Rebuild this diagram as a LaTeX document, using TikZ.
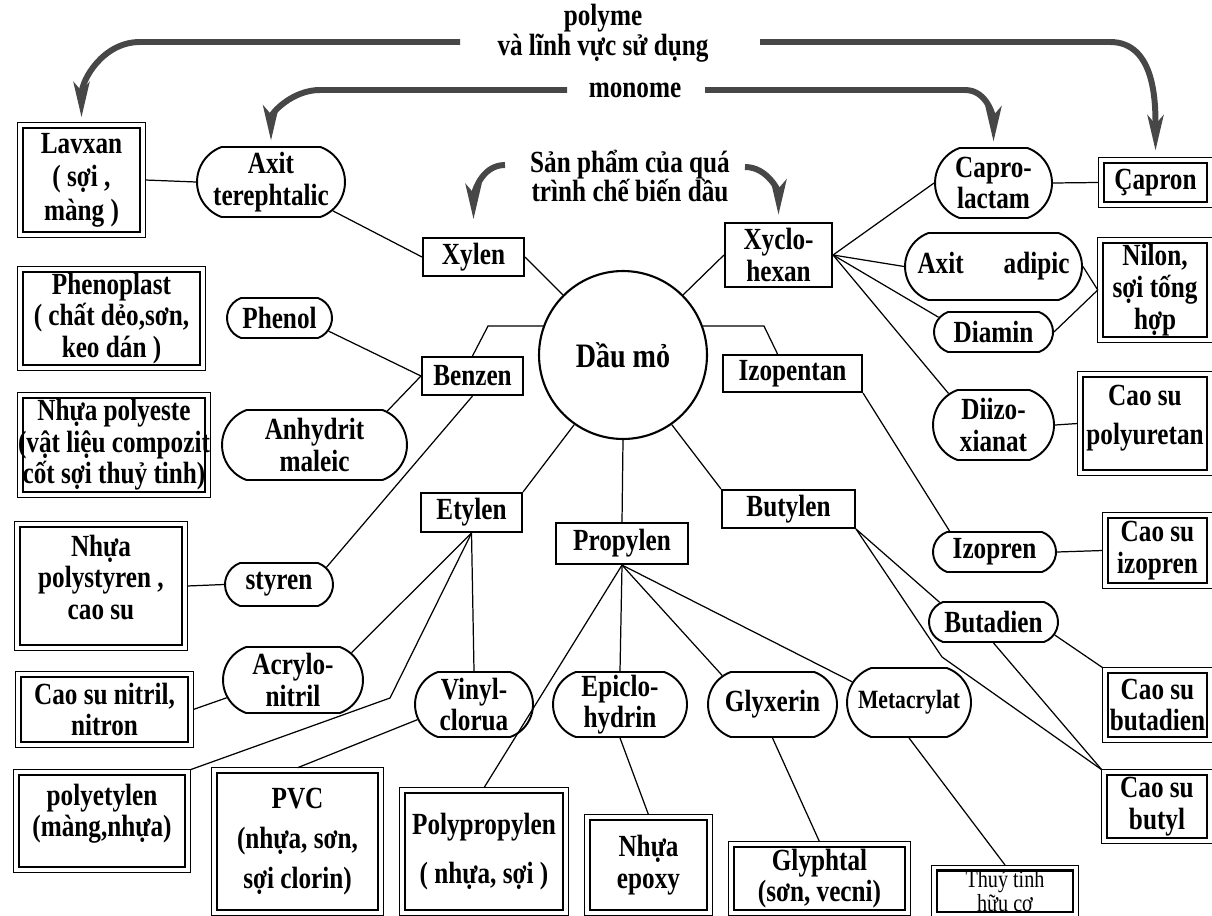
\documentclass[tikz,border=0pt]{standalone}
\usepackage{fontspec}
\setmainfont{Liberation Serif}[FakeStretch=0.82]
\usetikzlibrary{shapes.misc,arrows.meta}

\begin{document}
\begin{tikzpicture}[x=0.02cm,y=-0.02cm,
  txt/.style={font=\bfseries\fontsize{17.5}{18}\selectfont,align=center},
  rawbox/.style={txt,draw,rectangle,line width=1.2pt,inner sep=0pt,minimum height=0.76cm},
  monopill/.style={txt,draw,rounded rectangle,rounded rectangle arc length=140,line width=1.1pt,inner sep=0pt},
  prodbox/.style={txt,draw,rectangle,line width=1.4pt,inner sep=0pt,outer sep=3pt,
    append after command={\pgfextra{\begin{pgfinterruptpath}\draw[line width=0.5pt]
      (\tikzlastnode.north west) rectangle (\tikzlastnode.south east);\end{pgfinterruptpath}}}},
  link/.style={line width=0.7pt},
  bigarrow/.style={line width=3.4pt,black!72,-{Stealth[length=20pt,width=9pt,inset=5pt]}}]
\useasboundingbox (0,0) rectangle (1212,915);

% nguyen lieu
\node[draw,circle,line width=1.2pt,minimum size=3.36cm,font=\bfseries\fontsize{19.5}{22}\selectfont] (daumo) at (623,355) {Dầu mỏ};
\node[rawbox,minimum width=2.02cm] (xylen) at (473.5,257) {Xylen};
\node[rawbox,minimum width=2.14cm,minimum height=1.28cm] (xyclohexan) at (778.5,255) {Xyclo-\\hexan};
\node[rawbox,minimum width=2.02cm] (benzen) at (472.5,376) {Benzen};
\node[rawbox,minimum width=2.78cm,minimum height=0.74cm] (izopentan) at (792.5,373.5) {Izopentan};
\node[rawbox,minimum width=2.02cm,minimum height=0.78cm] (etylen) at (471.5,512.5) {Etylen};
\node[rawbox,minimum width=2.66cm] (butylen) at (788.5,509) {Butylen};
\node[rawbox,minimum width=2.64cm,minimum height=0.82cm] (propylen) at (622,543.5) {Propylen};

% monome
\node[monopill,minimum width=2.96cm,minimum height=1.4cm] (terephtalic) at (271,182) {Axit\\terephtalic};
\node[monopill,minimum width=2.1cm,minimum height=0.8cm] (phenol) at (279.5,318) {Phenol};
\node[monopill,minimum width=3.7cm,minimum height=1.4cm] (anhydrit) at (314.5,445) {Anhydrit\\maleic};
\node[monopill,minimum width=2.16cm,minimum height=0.86cm] (styren) at (279,584.5) {styren};
\node[monopill,minimum width=2.8cm,minimum height=1.32cm] (acrylonitril) at (293,680) {Acrylo-\\nitril};
\node[monopill,minimum width=2.36cm,minimum height=1.3cm] (vinylclorua) at (474,704.5) {Vinyl-\\clorua};
\node[monopill,minimum width=2.68cm,minimum height=1.3cm] (epiclohydrin) at (620,704.5) {Epiclo-\\hydrin};
\node[monopill,minimum width=2.58cm,minimum height=1.3cm] (glyxerin) at (772.5,704.5) {Glyxerin};
\node[monopill,minimum width=2.48cm,minimum height=1.38cm,font=\bfseries\fontsize{15}{17}\selectfont] (metacrylat) at (909,702.5) {Metacrylat};
\node[monopill,minimum width=2.34cm,minimum height=1.4cm] (caprolactam) at (993.5,183) {Capro-\\lactam};
\node[monopill,minimum width=3.54cm,minimum height=1.34cm] (adipic) at (993.5,266.5) {Axit\hspace{1.3em}adipic};
\node[monopill,minimum width=2.38cm,minimum height=0.8cm] (diamin) at (993.5,332) {Diamin};
\node[monopill,minimum width=2.42cm,minimum height=1.4cm] (diizoxianat) at (993.5,425) {Diizo-\\xianat};
\node[monopill,minimum width=2.46cm,minimum height=0.8cm] (izopren) at (994.5,552) {Izopren};
\node[monopill,minimum width=2.58cm,minimum height=0.8cm] (butadien) at (993.5,622) {Butadien};

% polyme
\node[prodbox,minimum width=2.34cm,minimum height=2.08cm] (lavxan) at (81.5,180) {Lavxan\\[1pt]( sợi ,\\[1pt]màng )};
\node[prodbox,minimum width=3.54cm,minimum height=1.86cm] (phenoplast) at (111.5,318.5) {Phenoplast\\( chất dẻo,sơn,\\keo dán )};
\node[prodbox,minimum width=3.64cm,minimum height=1.88cm] (polyeste) at (114,445) {Nhựa polyeste\\\makebox[3.6cm]{(vật liệu compozit}\\\makebox[3.6cm]{cốt sợi thuỷ tinh)}};
\node[prodbox,minimum width=3.24cm,minimum height=2.36cm] (polystyren) at (101,586) {Nhựa\\polystyren ,\\cao su\\[-8pt]};
\node[prodbox,minimum width=3.34cm,minimum height=1.3cm] (nitril) at (104.5,709.5) {Cao su nitril,\\nitron};
\node[prodbox,minimum width=3.32cm,minimum height=1.84cm] (polyetylen) at (102,821) {polyetylen\\(màng,nhựa)\\[-6pt]};
\node[prodbox,minimum width=3.22cm,minimum height=2.74cm] (pvc) at (297.5,841.5) {PVC\\[5pt](nhựa, sơn,\\[5pt]sợi clorin)};
\node[prodbox,minimum width=3.16cm,minimum height=2.34cm] (polypropylen) at (484,851.5) {Polypropylen\\[10pt]( nhựa, sợi )};
\node[prodbox,minimum width=2.34cm,minimum height=1.8cm] (epoxy) at (648.5,865) {Nhựa\\epoxy};
\node[prodbox,minimum width=3.42cm,minimum height=1.26cm] (glyphtal) at (819.5,878.5) {Glyphtal\\(sơn, vecni)};
\node[prodbox,minimum width=2.72cm,minimum height=0.76cm,font=\mdseries\fontsize{14}{10.5}\selectfont] (thuytinh) at (1005,891) {Thuỷ tinh\\hữu cơ};
\node[prodbox,minimum width=2.0cm,minimum height=1.26cm] (butyl) at (1157,806.5) {Cao su\\butyl};
\node[prodbox,minimum width=1.98cm,minimum height=1.28cm] (butadienbox) at (1157.5,705) {Cao su\\butadien};
\node[prodbox,minimum width=1.98cm,minimum height=1.3cm] (izoprenbox) at (1157.5,550.5) {Cao su\\izopren};
\node[prodbox,minimum width=2.48cm,minimum height=1.86cm] (polyuretan) at (1145,423.5) {Cao su\\[4pt]polyuretan\\[-8pt]};
\node[prodbox,minimum width=2.08cm,minimum height=1.88cm] (nilon) at (1155,290) {Nilon,\\sợi tống\\hợp};
\node[prodbox,minimum width=2.06cm,minimum height=0.78cm] (capron) at (1155.5,182.5) {Çapron};

% nhan
\node[txt,font=\bfseries\fontsize{17.5}{15.5}\selectfont] (polyme) at (603,33) {polyme\\và lĩnh vực sử dụng};
\node[txt] (monome) at (635,90) {monome};
\node[txt,font=\bfseries\fontsize{17.5}{16.5}\selectfont] (sanpham) at (630,176) {Sản phẩm của quá\\trình chế biến dầu};
\coordinate (polymeL) at (460,42);
\coordinate (polymeR) at (760,42);
\coordinate (monomeL) at (567,90);
\coordinate (monomeR) at (705,90);
\coordinate (sanphamL) at (505,165);
\coordinate (sanphamR) at (745,167);

\draw[bigarrow] (polymeL) -- (140,42) to[out=180,in=90] ([yshift=3pt]lavxan.north);
\draw[bigarrow] (polymeR) -- (1110,42) to[out=0,in=90] ([yshift=4pt]capron.north);
\draw[bigarrow] (monomeL) -- (320,90) to[out=180,in=90] ([yshift=3pt]terephtalic.north);
\draw[bigarrow] (monomeR) -- (965,90) to[out=0,in=90] ([yshift=3pt]caprolactam.north);
\draw[bigarrow] (sanphamL) to[out=180,in=90] ([yshift=10pt]xylen.north);
\draw[bigarrow] (sanphamR) to[out=0,in=90] ([yshift=4pt]xyclohexan.north);

% duong noi
\draw[link] (lavxan.east) -- (terephtalic.west);
\draw[link] (terephtalic.-25) -- (xylen.west);
\draw[link] (xylen.east) -- (daumo.135);
\draw[link] (daumo.45) -- (xyclohexan.west);
\draw[link] (daumo.160) -- ++(-55,0) -- (benzen.north);
\draw[link] (phenol.-15) -- (benzen.west);
\draw[link] (anhydrit.25) -- (benzen.west);
\draw[link] (benzen.south) -- (styren.20);
\draw[link] (polystyren.east) -- (styren.west);
\draw[link] (daumo.-125) -- (etylen.north east);
\draw[link] (etylen.south) -- (acrylonitril.25);
\draw[link] (etylen.south) -- (390,698) -- (polyetylen.north east);
\draw[link] (etylen.south) -- (vinylclorua.north);
\draw[link] (vinylclorua.195) -- (pvc.north);
\draw[link] (acrylonitril.195) -- (nitril.east);
\draw[link] (daumo.south) -- (propylen.north);
\draw[link] (propylen.south) -- (polypropylen.north);
\draw[link] (propylen.south) -- (epiclohydrin.north);
\draw[link] (propylen.south) -- (glyxerin.150);
\draw[link] (propylen.south) -- (metacrylat.160);
\draw[link] (epiclohydrin.south) -- (epoxy.north);
\draw[link] (glyxerin.south) -- (glyphtal.north);
\draw[link] (metacrylat.south) -- (thuytinh.north);
\draw[link] (daumo.-55) -- (butylen.north west);
\draw[link] (daumo.20) -- ++(61,0) -- ([xshift=-0.3cm]izopentan.north);
\draw[link] (izopentan.south east) -- (izopren.155);
\draw[link] (xyclohexan.east) -- (caprolactam.west);
\draw[link] (xyclohexan.east) -- (adipic.west);
\draw[link] (xyclohexan.east) -- (diamin.165);
\draw[link] (xyclohexan.east) -- (diizoxianat.145);
\draw[link] (adipic.east) -- (nilon.west);
\draw[link] (diamin.east) -- (nilon.west);
\draw[link] (diizoxianat.east) -- (polyuretan.west);
\draw[link] (caprolactam.east) -- (capron.west);
\draw[link] (izopren.east) -- (izoprenbox.west);
\draw[link] (butylen.south east) -- (butadien.160);
\draw[link] (butylen.south east) -- (942,657) -- (butyl.north west);
\draw[link] (butadien.south) -- (butyl.north west);
\draw[link] (butadien.-12) -- (butadienbox.north west);
\end{tikzpicture}
\end{document}
